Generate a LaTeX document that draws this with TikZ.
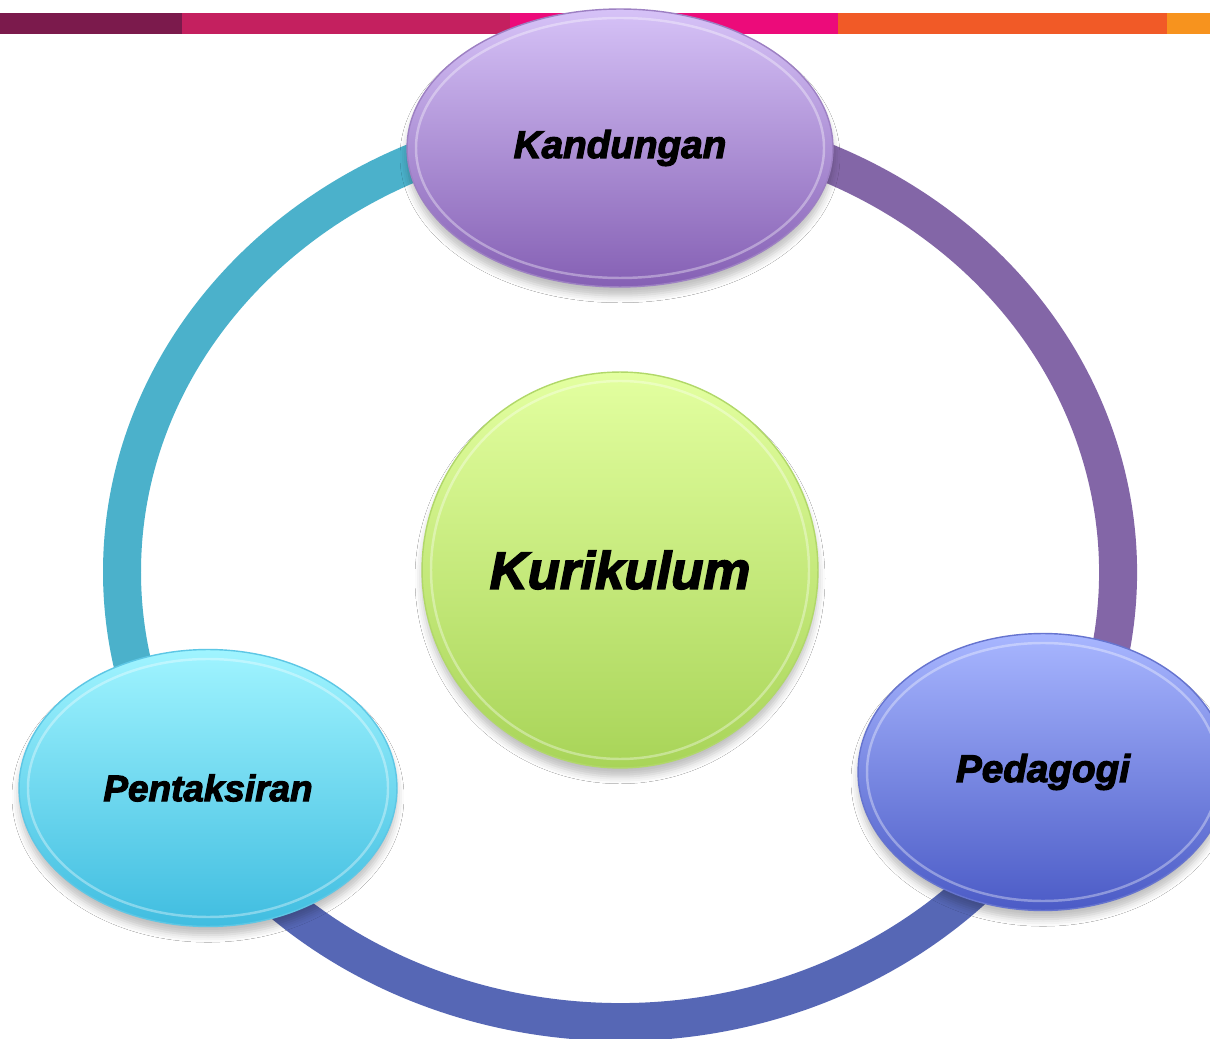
\documentclass[tikz,border=0pt]{standalone}
\usepackage{fontspec}
\newfontfamily\heavyfont{Liberation Sans}[BoldItalicFeatures={FakeBold=3}]
\usetikzlibrary{shapes.geometric,shadows.blur}

\definecolor{barA}{HTML}{7B1A4C}
\definecolor{barB}{HTML}{C4205F}
\definecolor{barC}{HTML}{EC0B7A}
\definecolor{barD}{HTML}{F15A27}
\definecolor{barE}{HTML}{F7931E}
\definecolor{ringcyan}{HTML}{4BB1CB}
\definecolor{ringpurple}{HTML}{8366A7}
\definecolor{ringblue}{HTML}{5667B5}
\definecolor{kandtop}{HTML}{D6C2F7}
\definecolor{kandbot}{HTML}{8560B4}
\definecolor{kuritop}{HTML}{E3FFA0}
\definecolor{kuribot}{HTML}{A8D458}
\definecolor{penttop}{HTML}{A0F4FF}
\definecolor{pentbot}{HTML}{40BDE0}
\definecolor{pedatop}{HTML}{A8B6FF}
\definecolor{pedabot}{HTML}{4B5BC6}

\tikzset{
  blob/.style={inner sep=0pt, draw=#1, line width=0.8pt,
    blur shadow={shadow xshift=0pt, shadow yshift=-5pt, shadow blur radius=4pt, shadow opacity=25}},
  rim/.style={draw=white, opacity=0.35, line width=1.4pt},
  ringband/.style={draw=#1, line width=0.76cm, line cap=butt},
  word/.style={font=\heavyfont\bfseries\itshape\fontsize{#1}{#1}\selectfont}
}

\begin{document}
\begin{tikzpicture}[x=0.02cm,y=0.02cm]
  \useasboundingbox (0,0) rectangle (1210,1038);
  \fill[white] (0,0) rectangle (1210,1038);

  % top bar
  \foreach \xa/\xb/\col in {0/182/barA, 182/510/barB, 510/838/barC, 838/1167/barD, 1167/1210/barE}
    \fill[\col] (\xa,1004) rectangle (\xb,1025);

  % ring
  \coordinate (ringc) at (620,466);
  \foreach \sa/\ea/\col in {90/210/ringcyan, 210/330/ringblue, -30/90/ringpurple}
    \draw[ringband=\col] (ringc) ++(\sa:498 and 450) arc[start angle=\sa, end angle=\ea, x radius=498, y radius=450];

  % nodes
  \node[blob=kandbot!80!white, ellipse, minimum width=8.52cm, minimum height=5.56cm,
        top color=kandtop, bottom color=kandbot, word=22] (kand) at (620,890) {Kandungan};
  \node[blob=kuribot!90!white, circle, minimum size=7.92cm,
        top color=kuritop, bottom color=kuribot, word=30] (kuri) at (620,468) {Kurikulum};
  \node[blob=pentbot!85!white, ellipse, minimum width=7.56cm, minimum height=5.54cm,
        top color=penttop, bottom color=pentbot, word=21] (pent) at (208,250) {Pentaksiran};
  \node[blob=pedabot!85!white, ellipse, minimum width=7.4cm, minimum height=5.54cm,
        top color=pedatop, bottom color=pedabot, word=22] (peda) at (1043,266) {Pedagogi};

  \foreach \nm/\rx/\ry in {kand/204/130, kuri/189/189, pent/180/129, peda/176/129}
    \draw[rim] (\nm.center) ellipse[x radius=\rx, y radius=\ry];
\end{tikzpicture}
\end{document}
